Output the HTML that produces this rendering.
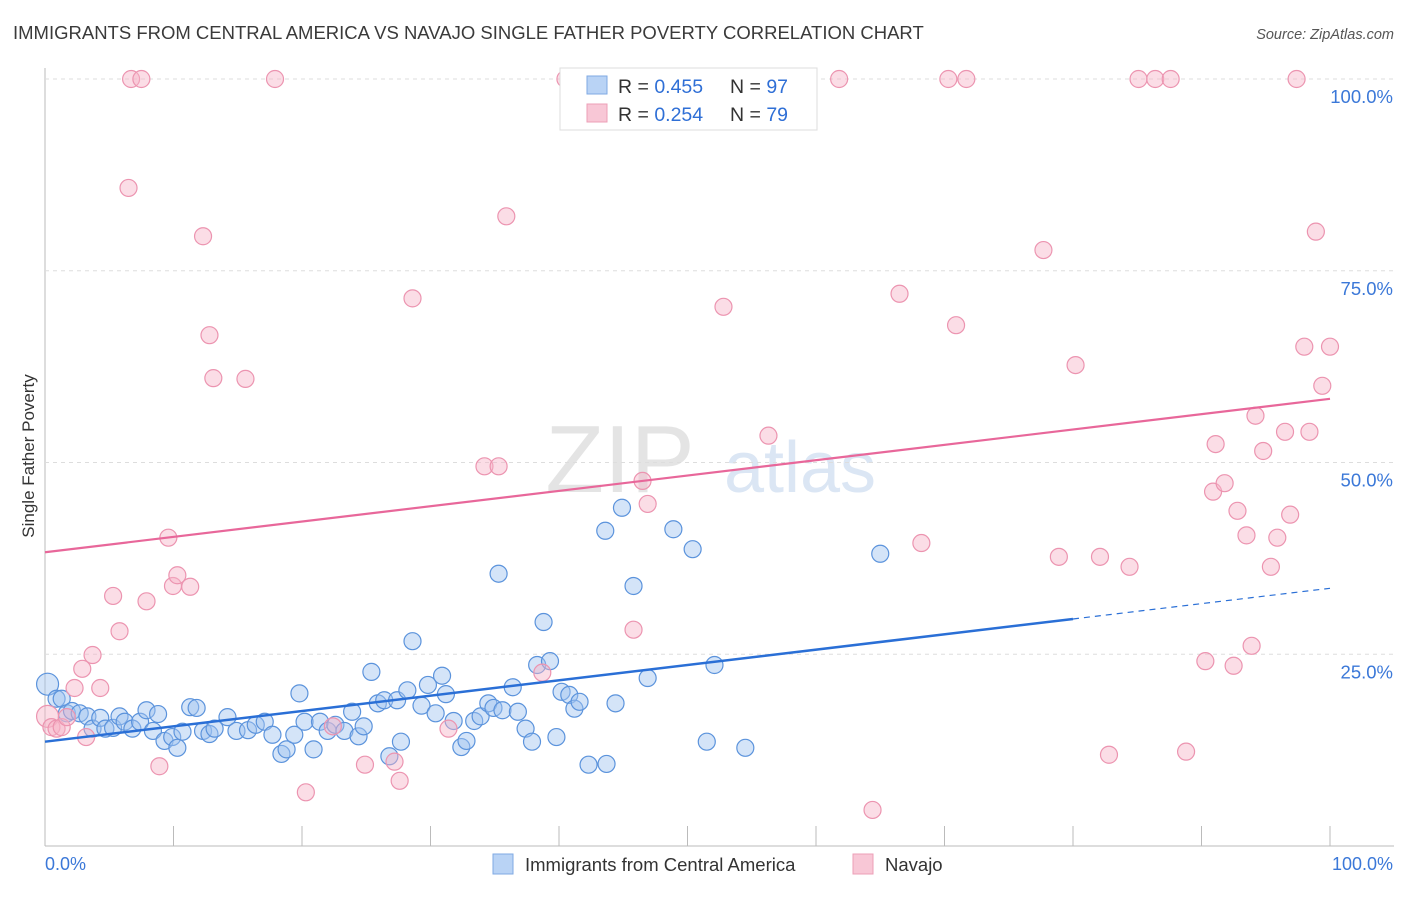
<!DOCTYPE html>
<html><head><meta charset="utf-8"><style>
body{margin:0;background:#fff;font-family:"Liberation Sans",sans-serif}
svg text{font-family:"Liberation Sans",sans-serif}
</style></head><body>
<svg id="chart" width="1406" height="892">
<text x="13" y="39" font-size="18.5" fill="#3a3a3a">IMMIGRANTS FROM CENTRAL AMERICA VS NAVAJO SINGLE FATHER POVERTY CORRELATION CHART</text>
<text x="1394" y="39" font-size="14.5" fill="#555" font-style="italic" text-anchor="end">Source: ZipAtlas.com</text>
<text x="0" y="0" transform="translate(34,456) rotate(-90)" font-size="17" fill="#333" text-anchor="middle">Single Father Poverty</text>
<text x="620" y="492" font-size="96" fill="#e4e4e4" font-family="Liberation Serif" text-anchor="middle">ZIP</text>
<text x="800" y="492" font-size="72" fill="#dbe6f4" text-anchor="middle">atlas</text>
<g id="grid"></g><g id="pts"></g><g id="lines"></g>
<g>
<rect x="560" y="68" width="257" height="62" fill="#fff" stroke="#ddd"/>
<rect x="587" y="76" width="20" height="18" fill="#b9d3f5" stroke="#7fa9e3"/>
<rect x="587" y="104" width="20" height="18" fill="#f8c7d6" stroke="#ec9fb7"/>
<text x="618" y="93" font-size="19.5" fill="#333">R = <tspan fill="#2f6fd6">0.455</tspan></text>
<text x="730" y="93" font-size="19.5" fill="#333">N = <tspan fill="#2f6fd6">97</tspan></text>
<text x="618" y="121" font-size="19.5" fill="#333">R = <tspan fill="#2f6fd6">0.254</tspan></text>
<text x="730" y="121" font-size="19.5" fill="#333">N = <tspan fill="#2f6fd6">79</tspan></text>
</g>
<g>
<rect x="493" y="854" width="20" height="20" fill="#b9d3f5" stroke="#7fa9e3"/>
<text x="525" y="871" font-size="18.5" fill="#333">Immigrants from Central America</text>
<rect x="853" y="854" width="20" height="20" fill="#f8c7d6" stroke="#ec9fb7"/>
<text x="885" y="871" font-size="18.5" fill="#333">Navajo</text>
</g>
<text x="45" y="870" font-size="18" fill="#3b78d8">0.0%</text>
<text x="1393" y="870" font-size="18" fill="#3b78d8" text-anchor="end">100.0%</text>
</svg>
<script>
const yTicks=[25,50,75,100];
const yTickLabels=["25.0%","50.0%","75.0%","100.0%"];
const xTicks=[0,10,20,30,40,50,60,70,80,90,100];
const blueX=[0.2,0.9,1.3,1.7,2.1,2.7,3.3,3.7,4.3,4.7,5.3,5.8,6.2,6.8,7.4,7.9,8.4,8.8,9.3,9.9,10.3,10.7,11.3,11.8,12.3,12.8,13.2,14.2,14.9,15.8,16.4,17.1,17.7,18.4,18.8,19.4,19.8,20.2,20.9,21.4,22.0,22.6,23.3,23.9,24.4,24.8,25.4,25.9,26.4,26.8,27.4,27.7,28.2,28.6,29.3,29.8,30.4,30.9,31.2,31.8,32.4,32.8,33.4,33.9,34.5,34.9,35.3,35.6,36.4,36.8,37.4,37.9,38.3,38.8,39.3,39.8,40.2,40.8,41.2,41.6,42.3,43.6,43.7,44.4,44.9,45.8,46.9,48.9,50.4,51.5,52.1,54.5,65.0];
const blueY=[21.1,19.2,19.2,17.3,17.6,17.3,16.9,15.3,16.7,15.3,15.4,16.9,16.2,15.3,16.2,17.7,15.0,17.2,13.7,14.2,12.8,14.9,18.1,18.0,15.0,14.6,15.3,16.8,15.0,15.1,15.8,16.2,14.5,12.0,12.6,14.5,19.9,16.2,12.6,16.2,15.0,15.8,15.0,17.5,14.3,15.6,22.7,18.6,19.0,11.7,19.0,13.6,20.3,26.7,18.3,21.0,17.3,22.2,19.8,16.3,12.9,13.7,16.3,16.9,18.6,18.0,35.5,17.7,20.7,17.5,15.3,13.6,23.6,29.2,24.1,14.2,20.1,19.7,17.9,18.8,10.6,41.1,10.7,18.6,44.1,33.9,21.9,41.3,38.7,13.6,23.6,12.8,38.1];
const pinkX=[0.2,0.5,0.9,1.3,1.7,2.3,2.9,3.2,3.7,4.3,5.3,5.8,6.5,6.7,7.5,7.9,8.9,9.6,9.96,10.3,11.3,12.3,12.8,13.1,15.6,17.9,20.3,22.4,24.9,27.2,27.6,28.6,31.4,34.2,35.3,35.9,38.7,40.5,45.8,46.5,46.9,52.8,56.3,61.8,64.4,66.5,68.2,70.3,70.9,71.7,77.7,78.9,80.2,82.1,82.8,84.4,85.1,86.4,87.6,88.8,90.3,90.9,91.1,91.8,92.5,92.8,93.5,93.9,94.2,94.8,95.4,95.9,96.5,96.9,97.4,98.0,98.4,98.9,99.4,100];
const pinkY=[16.9,15.5,15.3,15.5,16.8,20.6,23.1,14.2,24.9,20.6,32.6,28.0,85.8,100,100,31.9,10.4,40.2,33.9,35.3,33.8,79.5,66.6,61.0,60.9,100,7.0,15.6,10.6,11.0,8.5,71.4,15.3,49.5,49.5,82.1,22.6,100,28.2,47.6,44.6,70.3,53.5,100,4.7,72.0,39.5,100,67.9,100,77.7,37.7,62.7,37.7,11.9,36.4,100,100,100,12.3,24.1,46.2,52.4,47.3,23.5,43.7,40.5,26.1,56.1,51.5,36.4,40.2,54.0,43.2,100,65.1,54.0,80.1,60.0,65.1];
const blueTrend=[13.6,29.6,33.6]; // at x=0, 80, 100
const pinkTrend=[38.3,58.3]; // at x=0, 100
const NS='http://www.w3.org/2000/svg';
const X=v=>45+v*12.85, Y=v=>846-v*7.67;
function mk(t,a,p){const e=document.createElementNS(NS,t);for(const k in a)e.setAttribute(k,a[k]);p.appendChild(e);return e;}
const g=document.getElementById('grid');
const ax=mk('line',{x1:45,y1:68,x2:45,y2:846,stroke:'#bbb'},g);


const bx=mk('line',{x1:45,y1:846,x2:1394,y2:846,stroke:'#bbb'},g);


yTicks.forEach((t,i)=>{
 const l=mk('line',{x1:45,y1:Y(t),x2:1394,y2:Y(t),stroke:'#ddd','stroke-dasharray':'4,4'},g);
 
 
 const tx=mk('text',{x:1393,y:Y(t)+24,'font-size':18.5,fill:'#3b78d8','text-anchor':'end'},g);
 tx.textContent=yTickLabels[i];
 
 
});
xTicks.forEach(t=>{
 const l=mk('line',{x1:X(t),y1:826,x2:X(t),y2:846,stroke:'#bbb'},g);
 
 
});
const p=document.getElementById('pts');
blueX.forEach((x,i)=>{
 const c=mk('circle',{cx:X(x),cy:Y(blueY[i]),r:i==0?11:8.5,fill:'rgba(160,196,240,0.45)',stroke:'#5b93dc','stroke-width':1.2},p);
 
 
});
pinkX.forEach((x,i)=>{
 const c=mk('circle',{cx:X(x),cy:Y(pinkY[i]),r:i==0?11:8.5,fill:'rgba(246,180,200,0.45)',stroke:'#ec94b0','stroke-width':1.2},p);
 
 
});
const L=document.getElementById('lines');
const b1=mk('line',{x1:X(0),y1:Y(blueTrend[0]),x2:X(80),y2:Y(blueTrend[1]),stroke:'#2a6fd6','stroke-width':2.5},L);


const b2=mk('line',{x1:X(80),y1:Y(blueTrend[1]),x2:X(100),y2:Y(blueTrend[2]),stroke:'#2a6fd6','stroke-width':1.2,'stroke-dasharray':'6,5'},L);


const p1=mk('line',{x1:X(0),y1:Y(pinkTrend[0]),x2:X(100),y2:Y(pinkTrend[1]),stroke:'#e8679a','stroke-width':2.2},L);


</script>
</body></html>
